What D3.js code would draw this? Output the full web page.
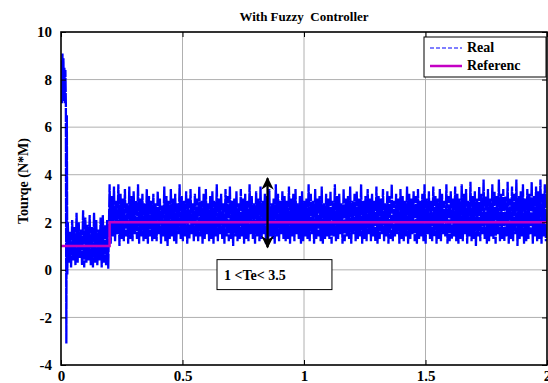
<!DOCTYPE html>
<html><head><meta charset="utf-8">
<script src="https://cdn.jsdelivr.net/npm/d3@7"></script>
<style>body{margin:0;background:#fff}svg{display:block}text{font-family:"Liberation Serif","Times New Roman",serif;font-weight:bold}</style>
</head><body><svg id="c" width="548" height="383"></svg>
<script>
// ---- data ----
const xTicks = [0, 0.5, 1, 1.5, 2];
const yTicks = [-4, -2, 0, 2, 4, 6, 8, 10];
const refT = [0, 0.2, 0.2, 2];
const refV = [1, 1, 2, 2];
const transientT = [0, 0.002, 0.004, 0.006, 0.008, 0.010, 0.012, 0.014, 0.016, 0.018, 0.020, 0.022, 0.024, 0.026];
const transientV = [7.2, 8.8, 7.0, 9.1, 7.4, 8.9, 7.1, 8.5, 7.0, 8.4, 7.0, -3.1, 6.5, -0.2];
const lowPhaseStart = 0.028, highPhaseStart = 0.2, sampleStep = 0.009;
const lowPhaseHigh = [2.0,1.6,2.1,1.8,2.4,2.0,1.7,2.5,2.2,1.9,2.3,1.8,2.4,2.1,1.7,2.2,2.3,1.9,2.1];
const lowPhaseLow  = [0.3,0.1,0.4,0.2,0.3,0.5,0.2,0.1,0.3,0.4,0.2,0.1,0.3,0.2,0.4,0.1,0.3,0.2,0.05];
const highPhaseHigh = [
3.6,3.1,3.5,2.9,3.6,3.2,3.0,3.4,2.8,3.5,3.1,3.3,2.9,3.6,3.0,3.2,2.8,3.4,3.1,2.9,
3.2,2.8,3.3,3.0,2.7,3.5,3.1,2.9,3.4,3.0,3.2,2.8,3.6,3.1,2.9,3.3,3.0,3.4,2.8,3.2,
3.0,3.5,2.9,3.2,3.4,2.8,3.1,3.3,2.9,3.6,3.0,3.2,2.8,3.4,3.1,3.5,2.9,3.0,3.3,2.8,
3.4,3.0,3.2,2.9,3.6,3.1,2.8,3.3,3.0,3.5,2.9,3.2,3.1,3.4,2.8,3.0,3.6,3.2,2.9,3.3,
3.1,2.9,3.5,3.0,3.2,3.4,2.8,3.1,3.3,2.9,3.0,3.6,3.2,2.9,3.4,3.0,3.1,3.5,2.8,3.2,
3.0,3.3,2.9,3.6,3.1,3.2,2.8,3.4,3.0,3.1,3.5,2.9,3.2,3.3,3.0,3.6,2.9,3.1,3.4,3.0,
3.2,2.9,3.5,3.1,3.0,3.4,2.8,3.3,3.1,3.6,2.9,3.2,3.0,3.4,3.1,2.9,3.5,3.2,3.0,3.3,
3.1,3.4,2.9,3.2,3.6,3.0,3.3,2.9,3.5,3.1,3.0,3.4,3.2,2.9,3.6,3.1,3.3,3.0,3.5,3.2,
3.0,3.6,3.2,3.4,2.9,3.7,3.1,3.3,3.0,3.5,3.2,3.8,3.1,3.4,3.0,3.6,3.3,3.1,3.8,3.2,
3.4,3.1,3.7,3.0,3.5,3.2,3.8,3.1,3.3,3.6,3.0,3.4,3.2,3.7,3.1,3.5,3.3,3.8,3.2,3.6];
const highPhaseLow = [
1.1,1.4,1.2,1.5,1.0,1.3,1.2,1.4,1.1,1.3,1.2,1.5,1.3,1.1,1.4,1.2,1.3,1.1,1.4,1.2,
1.3,1.2,1.5,1.1,1.4,1.2,1.0,1.3,1.4,1.2,1.1,1.5,1.3,1.2,1.4,1.1,1.3,1.5,1.2,1.4,
1.2,1.4,1.1,1.3,1.5,1.2,1.3,1.1,1.4,1.2,1.5,1.3,1.1,1.4,1.2,1.3,1.0,1.4,1.2,1.3,
1.4,1.1,1.3,1.2,1.5,1.3,1.1,1.4,1.2,1.3,1.5,1.1,1.2,1.4,1.3,1.1,1.4,1.2,1.5,1.3,
1.2,1.3,1.1,1.4,1.2,1.5,1.3,1.1,1.2,1.4,1.3,1.2,1.5,1.1,1.3,1.4,1.2,1.1,1.3,1.4,
1.3,1.1,1.4,1.2,1.3,1.5,1.1,1.2,1.4,1.3,1.1,1.5,1.2,1.3,1.4,1.1,1.3,1.2,1.5,1.2,
1.4,1.2,1.1,1.3,1.5,1.2,1.4,1.1,1.3,1.2,1.4,1.5,1.1,1.3,1.2,1.4,1.1,1.3,1.5,1.2,
1.1,1.3,1.4,1.2,1.1,1.5,1.3,1.2,1.4,1.1,1.3,1.2,1.5,1.4,1.1,1.2,1.3,1.4,1.2,1.1,
1.3,1.2,1.5,1.1,1.4,1.2,1.3,1.0,1.4,1.2,1.5,1.3,1.1,1.2,1.4,1.3,1.1,1.5,1.2,1.3,
1.2,1.4,1.1,1.3,1.2,1.5,1.0,1.3,1.4,1.1,1.2,1.3,1.5,1.1,1.4,1.2,1.3,1.1,1.4,1.2];
const annotT = 0.85, annotTop = 3.85, annotBottom = 0.95;
const annotText = "1 <Te< 3.5";
const annotBoxT = [0.642, 1.115], annotBoxV = [0.43, -0.83];
const titleText = "With Fuzzy  Controller";
const yLabel = "Tourqe (N*M)";
const legendLabels = ["Real", "Referenc"];

// ---- build series ----
const real = transientT.map((t, i) => [t, transientV[i]]);
lowPhaseHigh.forEach((h, i) => {
  const t = lowPhaseStart + i * sampleStep;
  real.push([t, h]); real.push([t + sampleStep / 2, lowPhaseLow[i]]);
});
highPhaseHigh.forEach((h, i) => {
  const t = highPhaseStart + i * sampleStep;
  real.push([t, h]); real.push([t + sampleStep / 2, highPhaseLow[i]]);
});
const ref = refT.map((t, i) => [t, refV[i]]);

// ---- drawing ----
const svg = d3.select("#c");
const L = 61, R = 547, T = 32, B = 365;
const x = d3.scaleLinear().domain([0, 2]).range([L, R]);
const y = d3.scaleLinear().domain([-4, 10]).range([B, T]);
const FONT = '"Liberation Serif","Times New Roman",serif';

svg.append("rect").attr("x", L).attr("y", T).attr("width", R - L).attr("height", B - T).attr("fill", "#fff");

// grid
svg.append("g").selectAll("line").data(xTicks.slice(1, -1)).join("line")
  .attr("x1", d => x(d)).attr("x2", d => x(d)).attr("y1", T).attr("y2", B)
  .attr("stroke", "#b0b0b0").attr("stroke-width", 1);
svg.append("g").selectAll("line").data(yTicks.slice(1, -1)).join("line")
  .attr("y1", d => y(d)).attr("y2", d => y(d)).attr("x1", L).attr("x2", R)
  .attr("stroke", "#b0b0b0").attr("stroke-width", 1);

svg.append("clipPath").attr("id", "clip").append("rect")
  .attr("x", L).attr("y", T).attr("width", R - L).attr("height", B - T);

const line = d3.line().x(d => x(d[0])).y(d => y(d[1]));
svg.append("path").datum(real).attr("clip-path", "url(#clip)")
  .attr("d", line).attr("fill", "none").attr("stroke", "#0000ff")
  .attr("stroke-width", 2.3).attr("stroke-linejoin", "miter").attr("stroke-dasharray", "14,1");
svg.append("path").datum(ref).attr("clip-path", "url(#clip)")
  .attr("d", line).attr("fill", "none").attr("stroke", "#c400c4")
  .attr("stroke-width", 2.5);

// axes
const fs = 15;
const ax = svg.append("g").attr("transform", `translate(0,${B})`)
  .call(d3.axisBottom(x).tickValues(xTicks).tickSize(-5).tickFormat(d => String(d)));
const axT = svg.append("g").attr("transform", `translate(0,${T})`)
  .call(d3.axisTop(x).tickValues(xTicks).tickSize(-5).tickFormat(""));
const ay = svg.append("g").attr("transform", `translate(${L},0)`)
  .call(d3.axisLeft(y).tickValues(yTicks).tickSize(-5).tickPadding(9).tickFormat(d => String(d)));
const ayR = svg.append("g").attr("transform", `translate(${R},0)`)
  .call(d3.axisRight(y).tickValues(yTicks).tickSize(-5).tickFormat(""));
[ax, axT, ay, ayR].forEach(g => {
  g.attr("font-family", null);
  g.select(".domain").remove();
  g.selectAll(".tick line").attr("stroke", "#000");
  g.selectAll("text").attr("font-size", fs).style("font-family", FONT).attr("font-weight", "bold").attr("fill", "#000");
});
ax.selectAll("text").attr("y", 16).attr("dy", null);
svg.append("rect").attr("x", L).attr("y", T).attr("width", R - L).attr("height", B - T)
  .attr("fill", "none").attr("stroke", "#000").attr("stroke-width", 1.6);

// title & labels
svg.append("text").attr("x", (L + R) / 2).attr("y", 21).attr("text-anchor", "middle")
  .attr("font-size", 13).style("white-space", "pre").text(titleText);
svg.append("text").attr("transform", `translate(28,181) rotate(-90)`).attr("text-anchor", "middle")
  .attr("font-size", 14).text(yLabel);

// annotation
const defs = svg.append("defs");
defs.append("marker").attr("id", "ah").attr("viewBox", "0 0 10 10").attr("refX", 9).attr("refY", 5)
  .attr("markerWidth", 5.5).attr("markerHeight", 5.5).attr("orient", "auto-start-reverse")
  .append("path").attr("d", "M0,0 L10,5 L0,10 L3,5 z").attr("fill", "#000");
svg.append("line").attr("x1", x(annotT)).attr("x2", x(annotT)).attr("y1", y(annotBottom)).attr("y2", y(annotTop))
  .attr("stroke", "#000").attr("stroke-width", 2.3)
  .attr("marker-start", "url(#ah)").attr("marker-end", "url(#ah)");
svg.append("rect").attr("x", x(annotBoxT[0])).attr("y", y(annotBoxV[0]))
  .attr("width", x(annotBoxT[1]) - x(annotBoxT[0])).attr("height", y(annotBoxV[1]) - y(annotBoxV[0]))
  .attr("fill", "#fff").attr("stroke", "#000").attr("stroke-width", 1);
svg.append("text").attr("x", x(annotBoxT[0]) + 7).attr("y", (y(annotBoxV[0]) + y(annotBoxV[1])) / 2 + 5)
  .attr("font-size", 14).text(annotText);

// legend
const lg = svg.append("g");
lg.append("rect").attr("x", 424).attr("y", 37).attr("width", 122).attr("height", 40)
  .attr("fill", "#fff").attr("stroke", "#000").attr("stroke-width", 1);
lg.append("line").attr("x1", 430).attr("x2", 462).attr("y1", 48).attr("y2", 48)
  .attr("stroke", "#0000ff").attr("stroke-width", 1.2).attr("stroke-dasharray", "4,2");
lg.append("line").attr("x1", 430).attr("x2", 462).attr("y1", 66).attr("y2", 66)
  .attr("stroke", "#c400c4").attr("stroke-width", 2.5);
lg.selectAll("text.lab").data(legendLabels).join("text").attr("class", "lab")
  .attr("x", 467).attr("y", (d, i) => 52 + i * 18).attr("font-size", 14).text(d => d);
</script></body></html>
